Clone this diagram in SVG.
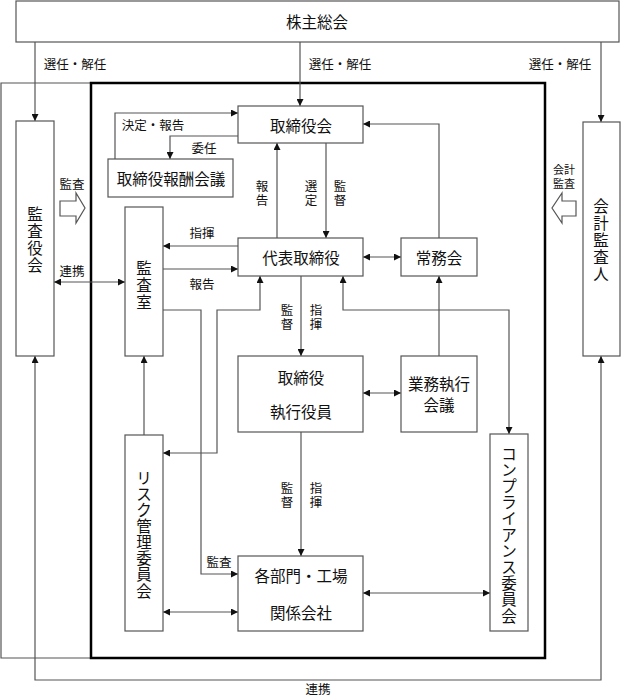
<svg xmlns="http://www.w3.org/2000/svg" width="621" height="697" viewBox="0 0 621 697">
<defs>
<style>
.box{fill:#fff;stroke:#555;stroke-width:1.2}
.ln{fill:none;stroke:#555;stroke-width:1.2}
.frame{fill:none;stroke:#000;stroke-width:2.5}
.t{font-family:"Noto Sans CJK JP","Noto Sans",sans-serif;font-size:15.5px;fill:#111;text-anchor:middle;dominant-baseline:central}
.s{font-family:"Noto Sans CJK JP","Noto Sans",sans-serif;font-size:12.5px;fill:#111;text-anchor:middle;dominant-baseline:central}
.hollow{fill:#fff;stroke:#555;stroke-width:1.2}
</style>
<marker id="ah" viewBox="0 0 10 10" refX="10" refY="5" markerWidth="8" markerHeight="7" orient="auto-start-reverse" markerUnits="userSpaceOnUse">
<path d="M0,0 L10,5 L0,10 z" fill="#111"/>
</marker>
</defs>
<rect width="621" height="697" fill="#fff"/>

<g id="frames">
<path class="ln" d="M91,83 H1 V658 H91"/>
<rect class="frame" x="91" y="83" width="454" height="575"/>
</g>

<g id="connectors">
<path class="ln" d="M35,42 V121" marker-end="url(#ah)"/>
<path class="ln" d="M300,42 V106" marker-end="url(#ah)"/>
<path class="ln" d="M601,42 V122" marker-end="url(#ah)"/>
<path class="ln" d="M115,159 V113 H238" marker-end="url(#ah)"/>
<path class="ln" d="M238,136 H170 V159" marker-end="url(#ah)"/>
<path class="ln" d="M439,238 V124 H363" marker-end="url(#ah)"/>
<path class="ln" d="M277,238 V143" marker-end="url(#ah)"/>
<path class="ln" d="M326,143 V238" marker-end="url(#ah)"/>
<path class="ln" d="M238,246 H163" marker-end="url(#ah)"/>
<path class="ln" d="M163,269 H238" marker-end="url(#ah)"/>
<path class="ln" d="M54,282 H125" marker-start="url(#ah)" marker-end="url(#ah)"/>
<path class="ln" d="M363,257 H401" marker-start="url(#ah)" marker-end="url(#ah)"/>
<path class="ln" d="M301,276 V356" marker-end="url(#ah)"/>
<path class="ln" d="M163,310 H201 V574 H238" marker-end="url(#ah)"/>
<path class="ln" d="M163,453 H217 V310 H260 V276" marker-start="url(#ah)" marker-end="url(#ah)"/>
<path class="ln" d="M343,276 V310 H509 V434" marker-start="url(#ah)" marker-end="url(#ah)"/>
<path class="ln" d="M439,356 V276" marker-end="url(#ah)"/>
<path class="ln" d="M363,393 H401" marker-start="url(#ah)" marker-end="url(#ah)"/>
<path class="ln" d="M301,432 V556" marker-end="url(#ah)"/>
<path class="ln" d="M144,435 V356" marker-end="url(#ah)"/>
<path class="ln" d="M163,612 H238" marker-start="url(#ah)" marker-end="url(#ah)"/>
<path class="ln" d="M363,593 H490" marker-start="url(#ah)" marker-end="url(#ah)"/>
<path class="ln" d="M35,356 V680 H601 V356" marker-start="url(#ah)" marker-end="url(#ah)"/>
<polygon class="hollow" points="60,201 76,201 76,193 85,208 76,223 76,216 60,216"/>
<polygon class="hollow" points="576,201 562,201 562,193 552,208 562,223 562,216 576,216"/>
</g>

<g id="labels">
<text class="s" x="75" y="63">選任・解任</text>
<text class="s" x="340" y="63">選任・解任</text>
<text class="s" x="560" y="63">選任・解任</text>
<text class="s" x="153" y="124">決定・報告</text>
<text class="s" x="204" y="147">委任</text>
<text class="s" x="262" y="185">報</text><text class="s" x="262" y="199">告</text>
<text class="s" x="311" y="185">選</text><text class="s" x="311" y="199">定</text>
<text class="s" x="340" y="185">監</text><text class="s" x="340" y="199">督</text>
<text class="s" x="72" y="183">監査</text>
<text class="s" x="72" y="270">連携</text>
<text class="s" x="564" y="169" style="font-size:11px">会計</text>
<text class="s" x="564" y="183" style="font-size:11px">監査</text>
<text class="s" x="202" y="232">指揮</text>
<text class="s" x="202" y="283">報告</text>
<text class="s" x="287" y="309">監</text><text class="s" x="287" y="323">督</text>
<text class="s" x="316" y="309">指</text><text class="s" x="316" y="323">揮</text>
<text class="s" x="287" y="487">監</text><text class="s" x="287" y="501">督</text>
<text class="s" x="316" y="487">指</text><text class="s" x="316" y="501">揮</text>
<text class="s" x="219" y="561">監査</text>
<text class="s" x="318" y="688">連携</text>
</g>

<g id="n-kabunushi">
<rect class="box" x="16" y="1" width="603" height="41"/>
<text class="t" x="317" y="21">株主総会</text>
</g>

<g id="n-kansayakukai">
<rect class="box" x="16" y="121" width="38" height="235"/>
<text class="t" x="35"><tspan x="35" y="213">監</tspan><tspan x="35" y="230">査</tspan><tspan x="35" y="247">役</tspan><tspan x="35" y="264">会</tspan></text>
</g>

<g id="n-kaikeikansanin">
<rect class="box" x="583" y="122" width="37" height="234"/>
<text class="t" x="601"><tspan x="601" y="205">会</tspan><tspan x="601" y="222">計</tspan><tspan x="601" y="239">監</tspan><tspan x="601" y="256">査</tspan><tspan x="601" y="273">人</tspan></text>
</g>

<g id="n-torishimariyakukai">
<rect class="box" x="238" y="106" width="125" height="37"/>
<text class="t" x="301" y="125">取締役会</text>
</g>

<g id="n-hoshu">
<rect class="box" x="108" y="159" width="125" height="38"/>
<text class="t" x="171" y="178">取締役報酬会議</text>
</g>

<g id="n-daihyo">
<rect class="box" x="238" y="238" width="125" height="38"/>
<text class="t" x="301" y="257">代表取締役</text>
</g>

<g id="n-jomukai">
<rect class="box" x="401" y="238" width="76" height="38"/>
<text class="t" x="439" y="257">常務会</text>
</g>

<g id="n-kansashitsu">
<rect class="box" x="125" y="207" width="38" height="149"/>
<text class="t" x="144"><tspan x="144" y="267">監</tspan><tspan x="144" y="284">査</tspan><tspan x="144" y="301">室</tspan></text>
</g>

<g id="n-shikko">
<rect class="box" x="238" y="356" width="125" height="76"/>
<text class="t" x="301" y="377">取締役</text>
<text class="t" x="301" y="411">執行役員</text>
</g>

<g id="n-gyomu">
<rect class="box" x="401" y="356" width="76" height="76"/>
<text class="t" x="439" y="383">業務執行</text>
<text class="t" x="439" y="404">会議</text>
</g>

<g id="n-risk">
<rect class="box" x="125" y="435" width="38" height="196"/>
<text class="t" x="144"><tspan x="144" y="477">リ</tspan><tspan x="144" y="493">ス</tspan><tspan x="144" y="509">ク</tspan><tspan x="144" y="525">管</tspan><tspan x="144" y="541">理</tspan><tspan x="144" y="557">委</tspan><tspan x="144" y="573">員</tspan><tspan x="144" y="590">会</tspan></text>
</g>

<g id="n-bumon">
<rect class="box" x="238" y="556" width="125" height="75"/>
<text class="t" x="301" y="575">各部門・工場</text>
<text class="t" x="301" y="612">関係会社</text>
</g>

<g id="n-compliance">
<rect class="box" x="490" y="434" width="38" height="197"/>
<text class="t" x="509"><tspan x="509" y="453">コ</tspan><tspan x="509" y="469">ン</tspan><tspan x="509" y="485">プ</tspan><tspan x="509" y="501">ラ</tspan><tspan x="509" y="517">イ</tspan><tspan x="509" y="534">ア</tspan><tspan x="509" y="550">ン</tspan><tspan x="509" y="566">ス</tspan><tspan x="509" y="582">委</tspan><tspan x="509" y="598">員</tspan><tspan x="509" y="615">会</tspan></text>
</g>
</svg>
